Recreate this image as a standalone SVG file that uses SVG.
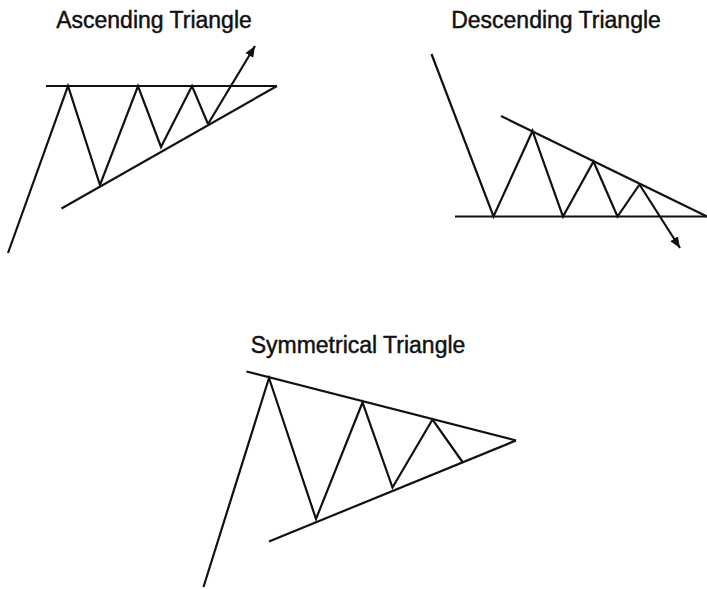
<svg xmlns="http://www.w3.org/2000/svg" width="707" height="589" viewBox="0 0 707 589">
  <style>
    .title { font-family: "Liberation Sans", Arial, sans-serif; font-size: 23px; fill: #111; stroke: #111; stroke-width: 0.45; text-anchor: middle; }
    .ln { fill: none; stroke: #111; stroke-width: 2.2; stroke-linejoin: miter; stroke-linecap: butt; }
  </style>
  <defs>
    <marker id="arrow" markerUnits="userSpaceOnUse" markerWidth="12" markerHeight="12" viewBox="0 0 12 12" refX="11" refY="6" orient="auto">
      <path d="M0,1.5 L11,6 L0,10.5 Z" fill="#111"/>
    </marker>
  </defs>
  <rect width="707" height="589" fill="#fff"/>

  <g id="ascending">
    <text class="title" x="154" y="27.5">Ascending Triangle</text>
    <line class="ln" x1="46" y1="86" x2="277" y2="86"/>
    <line class="ln" x1="61.5" y1="208.5" x2="277" y2="86"/>
    <polyline class="ln" points="8,253 68,86 100,185 138,86 161,147 192,86 208,124"/>
    <line class="ln" x1="208" y1="124" x2="255" y2="46" marker-end="url(#arrow)"/>
  </g>

  <g id="descending">
    <text class="title" x="556" y="27.5">Descending Triangle</text>
    <line class="ln" x1="455" y1="216.5" x2="707" y2="216.5"/>
    <line class="ln" x1="501" y1="116" x2="707" y2="216.5"/>
    <polyline class="ln" points="431.5,54 493.5,216.5 532.5,131 563,216.5 593.5,161.5 617.5,216.5 639.5,184.5"/>
    <line class="ln" x1="639.5" y1="184.5" x2="680" y2="248" marker-end="url(#arrow)"/>
  </g>

  <g id="symmetrical">
    <text class="title" x="358" y="353">Symmetrical Triangle</text>
    <line class="ln" x1="246.5" y1="371.5" x2="516" y2="440.5"/>
    <line class="ln" x1="269" y1="541.5" x2="516" y2="440.5"/>
    <polyline class="ln" points="203.5,587 269,378 316,519 362.5,402.5 392.5,487.5 432.5,419.5 462.5,462"/>
  </g>
</svg>
